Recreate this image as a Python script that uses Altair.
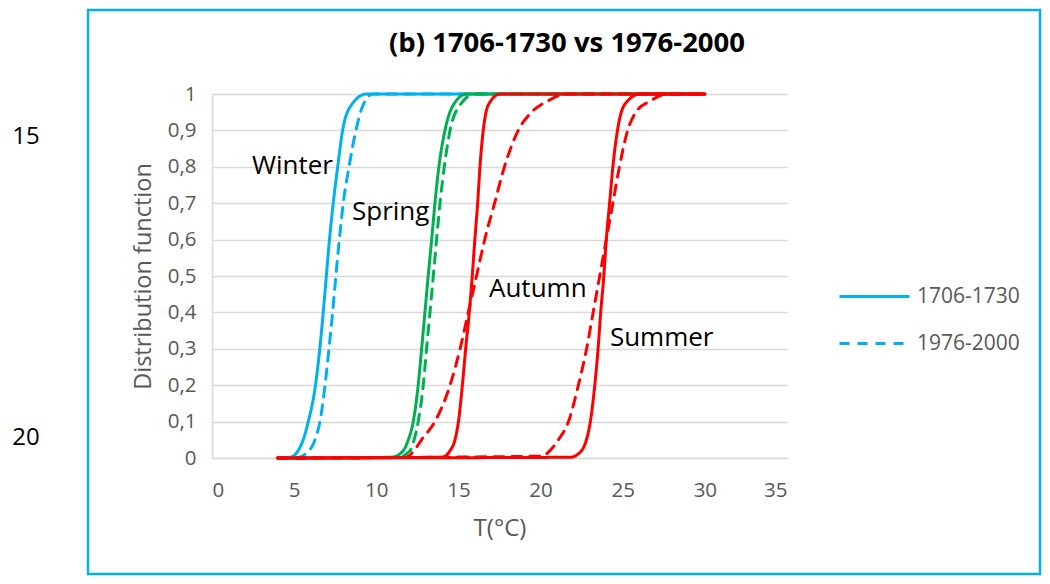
import altair as alt
import pandas as pd

# ---- data ----
F_STD = [0, 0.002, 0.02, 0.05, 0.1, 0.2, 0.3, 0.4, 0.5, 0.6, 0.7, 0.8, 0.9, 0.97, 1, 1]

T_WINTER_1706 = [4, 4.75, 5.24, 5.55, 5.86, 6.3, 6.56, 6.77, 6.96, 7.15, 7.38, 7.65, 7.95, 8.49, 9.4, 30]
F_WINTER_1706 = F_STD
T_WINTER_1976 = [4, 5.3, 5.66, 6.27, 6.57, 6.88, 7.12, 7.34, 7.54, 7.75, 7.99, 8.34, 8.76, 9.2, 9.8, 30]
F_WINTER_1976 = [0, 0.002, 0.01, 0.05, 0.1, 0.2, 0.3, 0.4, 0.5, 0.6, 0.7, 0.8, 0.9, 0.97, 1, 1]

T_SPRING_1706 = [4, 10.94, 11.64, 11.95, 12.25, 12.55, 12.76, 12.96, 13.16, 13.37, 13.57, 13.81, 14.18, 14.69, 15.5, 30]
F_SPRING_1706 = F_STD
T_SPRING_1976 = [4, 11.3, 12.05, 12.3, 12.55, 12.86, 13.06, 13.27, 13.47, 13.67, 13.88, 14.14, 14.49, 15.1, 16.0, 30]
F_SPRING_1976 = F_STD

T_AUTUMN_1706 = [4, 14.0, 14.49, 14.79, 15.0, 15.24, 15.44, 15.66, 15.84, 16.0, 16.17, 16.31, 16.51, 16.82, 17.53, 30]
F_AUTUMN_1706 = F_STD
T_AUTUMN_1976 = [4, 11.8, 12.45, 12.75, 13.57, 14.49, 15.1, 15.6, 16.1, 16.6, 17.2, 17.8, 18.64, 19.45, 20.4, 21.6, 30]
F_AUTUMN_1976 = [0, 0.002, 0.03, 0.05, 0.1, 0.2, 0.3, 0.4, 0.5, 0.6, 0.7, 0.8, 0.9, 0.95, 0.98, 1, 1]

T_SUMMER_1706 = [4, 21.8, 22.49, 22.79, 23.03, 23.3, 23.5, 23.66, 23.85, 24.0, 24.2, 24.4, 24.68, 25.1, 26.05, 30]
F_SUMMER_1706 = F_STD
T_SUMMER_1976 = [4, 20.0, 21.08, 21.7, 22.3, 22.8, 23.2, 23.6, 24.0, 24.4, 24.8, 25.3, 25.8, 26.65, 27.67, 30]
F_SUMMER_1976 = [0, 0.005, 0.05, 0.1, 0.2, 0.3, 0.4, 0.5, 0.6, 0.7, 0.8, 0.9, 0.95, 0.98, 1, 1]

PERIODS = ["1706-1730", "1976-2000"]
SEASON_COLORS = {"Winter": "#00B0F0", "Spring": "#00B050", "Autumn": "#FF0000", "Summer": "#FF0000"}

SERIES = [
    ("Winter", PERIODS[0], T_WINTER_1706, F_WINTER_1706),
    ("Winter", PERIODS[1], T_WINTER_1976, F_WINTER_1976),
    ("Spring", PERIODS[0], T_SPRING_1706, F_SPRING_1706),
    ("Spring", PERIODS[1], T_SPRING_1976, F_SPRING_1976),
    ("Autumn", PERIODS[0], T_AUTUMN_1706, F_AUTUMN_1706),
    ("Autumn", PERIODS[1], T_AUTUMN_1976, F_AUTUMN_1976),
    ("Summer", PERIODS[0], T_SUMMER_1706, F_SUMMER_1706),
    ("Summer", PERIODS[1], T_SUMMER_1976, F_SUMMER_1976),
]

LABEL_NAMES = ["Winter", "Spring", "Autumn", "Summer"]
LABEL_T = [2.43, 8.52, 16.86, 24.22]
LABEL_F = [0.802, 0.676, 0.464, 0.33]

TITLE = "(b) 1706-1730 vs 1976-2000"
SIDE_TEXTS = ["15", "20"]

X_TICKS = [0, 5, 10, 15, 20, 25, 30, 35]
Y_TICKS = [0, 0.1, 0.2, 0.3, 0.4, 0.5, 0.6, 0.7, 0.8, 0.9, 1]

FONT = "Open Sans"
GRAY = "#595959"

x_scale = alt.Scale(domain=[0, 35], nice=False)
y_scale = alt.Scale(domain=[0, 1], nice=False)
dash_scale = alt.Scale(domain=PERIODS, range=[[1, 0], [10, 8]])

legend = alt.Legend(
    title=None, orient="none", legendX=626, legendY=166,
    symbolType="stroke", symbolSize=4900, symbolStrokeWidth=3,
    symbolStrokeColor="#00B0F0", labelFont=FONT, labelFontSize=21,
    labelColor=GRAY, labelOffset=6, rowPadding=-10,
)

x_axis = alt.Axis(values=X_TICKS, title="T(°C)", grid=False, ticks=False,
                  labelFont=FONT, labelFontSize=20.5, labelColor=GRAY,
                  titleFont=FONT, titleFontSize=24, titleColor=GRAY, titleFontWeight="normal",
                  labelPadding=22, titlePadding=16, domainColor="#D9D9D9", domainWidth=1.5)
y_axis = alt.Axis(values=Y_TICKS, title="Distribution function", grid=True, ticks=False,
                  labelFont=FONT, labelFontSize=20.5, labelColor=GRAY,
                  titleFont=FONT, titleFontSize=23.5, titleColor=GRAY, titleFontWeight="normal",
                  gridColor="#D9D9D9", gridWidth=1.5, labelPadding=16, titlePadding=12,
                  domainColor="#D9D9D9", domainWidth=1.5,
                  labelExpr="replace(format(datum.value, '.1~f'), '.', ',')")

X = alt.X("T:Q", scale=x_scale, axis=x_axis)
Y = alt.Y("F:Q", scale=y_scale, axis=y_axis)

layers = []
for season, period, ts, fs in SERIES:
    df = pd.DataFrame({"T": ts, "F": fs, "period": period})
    layers.append(
        alt.Chart(df).mark_line(color=SEASON_COLORS[season], strokeWidth=3,
                                interpolate="monotone", strokeCap="round").encode(
            x=X, y=Y,
            strokeDash=alt.StrokeDash("period:N", scale=dash_scale, legend=legend),
        )
    )

labels_df = pd.DataFrame({"name": LABEL_NAMES, "T": LABEL_T, "F": LABEL_F})
labels = alt.Chart(labels_df).mark_text(align="left", baseline="middle", font=FONT,
                                        fontSize=26, color="black").encode(
    x=X, y=Y, text="name:N")

# decorations outside the plot: frame, title and stray line numbers
one = pd.DataFrame({"a": [0]})
frame = alt.Chart(one).mark_rect(
    fill=None, stroke="#00B0F0", strokeWidth=2.5, clip=False).encode(
    x=alt.value(-124), x2=alt.value(828), y=alt.value(-84), y2=alt.value(480))

title = alt.Chart(one).mark_text(font=FONT, fontSize=27.5, fontWeight="bold", color="black",
                                 clip=False, baseline="middle").encode(
    x=alt.value(355), y=alt.value(-50), text=alt.value(TITLE))

side15 = alt.Chart(one).mark_text(font=FONT, fontSize=24, color="black", clip=False).encode(
    x=alt.value(-186), y=alt.value(43), text=alt.value(SIDE_TEXTS[0]))
side20 = alt.Chart(one).mark_text(font=FONT, fontSize=24, color="black", clip=False).encode(
    x=alt.value(-186), y=alt.value(344), text=alt.value(SIDE_TEXTS[1]))

chart = alt.layer(*layers, labels, frame, title, side15, side20).properties(
    width=575, height=364,
    autosize=alt.AutoSizeParams(type="none"),
    padding={"left": 204, "top": 86, "right": 255, "bottom": 118},
).configure_view(stroke=None)

chart.save("out.html", embed_options={"renderer": "svg", "actions": False})
